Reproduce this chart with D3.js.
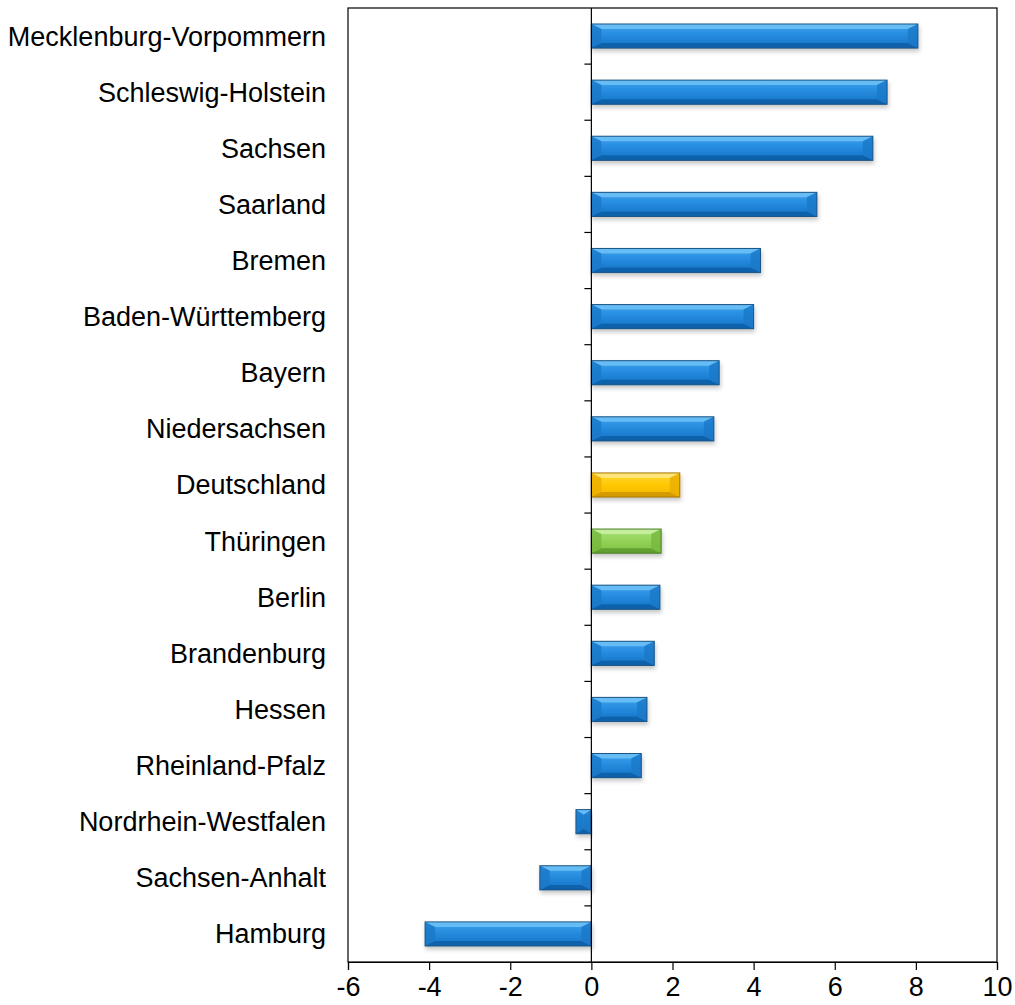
<!DOCTYPE html>
<html lang="en">
<head>
    <meta charset="utf-8">
    <script src="https://d3js.org/d3.v7.min.js"></script>
    <style>
        body { margin: 0; background: #fff; }
        text { font-family: "Liberation Sans", Arial, sans-serif; }
    </style>
</head>
<body>
    <div id="chart"></div>
    <script>
        // data
        const states = ["Mecklenburg-Vorpommern", "Schleswig-Holstein", "Sachsen", "Saarland",
            "Bremen", "Baden-Württemberg", "Bayern", "Niedersachsen", "Deutschland", "Thüringen",
            "Berlin", "Brandenburg", "Hessen", "Rheinland-Pfalz", "Nordrhein-Westfalen",
            "Sachsen-Anhalt", "Hamburg"];
        const values = [8.05, 7.29, 6.94, 5.56, 4.17, 4.0, 3.15, 3.02, 2.18, 1.72,
            1.69, 1.55, 1.37, 1.23, -0.38, -1.27, -4.1];
        const xTicks = [-6, -4, -2, 0, 2, 4, 6, 8, 10];

        // colour scheme per bar kind
        const palettes = {
            blue:   { top: "#6cc0f6", c0: "#3ea3ee", c1: "#2489dc", c2: "#1673c4", bottom: "#0d5ea6", side: "#1b78c8", border: "#1d5584" },
            yellow: { top: "#ffe680", c0: "#ffd83a", c1: "#ffc800", c2: "#f2b600", bottom: "#cf9500", side: "#eaae00", border: "#a67800" },
            green:  { top: "#c8f0a0", c0: "#ace47a", c1: "#92d257", c2: "#7dc244", bottom: "#5c9a2e", side: "#76b83e", border: "#4b7e27" }
        };
        function kind(name) {
            if (name === "Deutschland") return "yellow";
            if (name === "Thüringen") return "green";
            return "blue";
        }

        const W = 1015, H = 1005;
        const margin = { top: 8, right: 18, bottom: 43, left: 348 };
        const width = W - margin.left - margin.right,
            height = H - margin.top - margin.bottom;

        const svg = d3.select("#chart").append("svg")
            .attr("width", W).attr("height", H);

        const defs = svg.append("defs");
        const f = defs.append("filter").attr("id", "shadow")
            .attr("x", "-10%").attr("y", "-30%").attr("width", "120%").attr("height", "180%");
        f.append("feDropShadow").attr("dx", 1).attr("dy", 3).attr("stdDeviation", 2)
            .attr("flood-color", "#000").attr("flood-opacity", 0.22);

        Object.entries(palettes).forEach(([k, p]) => {
            const lg = defs.append("linearGradient").attr("id", "grad-" + k)
                .attr("x1", 0).attr("y1", 0).attr("x2", 0).attr("y2", 1);
            lg.append("stop").attr("offset", "0%").attr("stop-color", p.c0);
            lg.append("stop").attr("offset", "50%").attr("stop-color", p.c1);
            lg.append("stop").attr("offset", "100%").attr("stop-color", p.c2);
        });

        const g = svg.append("g").attr("transform", `translate(${margin.left},${margin.top})`);

        const x = d3.scaleLinear().domain([-6, 10]).range([0, width]);
        const y = d3.scaleBand().domain(states).range([0, height]).paddingInner(0.57).paddingOuter(0.285);

        // frame
        g.append("rect").attr("x", 0).attr("y", 0).attr("width", width).attr("height", height)
            .attr("fill", "none").attr("stroke", "#000").attr("stroke-width", 1.2);

        // x axis
        const xAxis = g.append("g").attr("transform", `translate(0,${height})`)
            .call(d3.axisBottom(x).tickValues(xTicks).tickSize(8).tickPadding(7).tickFormat(d => String(d)));
        xAxis.select(".domain").attr("stroke-width", 1.2);
        xAxis.selectAll("line").attr("stroke-width", 1.2);
        xAxis.selectAll("text").attr("font-size", 27).attr("fill", "#000")
            .style("font-family", "'Liberation Sans', Arial, sans-serif");

        // bars
        const bars = g.selectAll(".bar").data(states.map((s, i) => ({ name: s, v: values[i] })))
            .join("g").attr("class", "bar").attr("filter", "url(#shadow)");

        bars.each(function (d) {
            const k = kind(d.name), p = palettes[k];
            const x0 = Math.min(x(0), x(d.v)), x1 = Math.max(x(0), x(d.v));
            const y0 = y(d.name), y1 = y0 + y.bandwidth();
            const dy = 5, dx = Math.min(10, (x1 - x0) / 2);
            const sel = d3.select(this);
            const poly = (pts, fill, op) => sel.append("polygon")
                .attr("points", pts.map(q => q.join(",")).join(" ")).attr("fill", fill)
                .attr("opacity", op == null ? 1 : op);
            // body
            poly([[x0, y0], [x1, y0], [x1, y1], [x0, y1]], `url(#grad-${k})`);
            // top bevel
            poly([[x0, y0], [x1, y0], [x1 - dx, y0 + dy], [x0 + dx, y0 + dy]], p.top, 0.9);
            // bottom bevel
            poly([[x0, y1], [x1, y1], [x1 - dx, y1 - dy], [x0 + dx, y1 - dy]], p.bottom, 0.85);
            // side bevels
            poly([[x0, y0], [x0 + dx, y0 + dy], [x0 + dx, y1 - dy], [x0, y1]], p.side, 0.8);
            poly([[x1, y0], [x1 - dx, y0 + dy], [x1 - dx, y1 - dy], [x1, y1]], p.side, 0.8);
            // border
            sel.append("rect").attr("x", x0).attr("y", y0).attr("width", x1 - x0).attr("height", y1 - y0)
                .attr("fill", "none").attr("stroke", p.border).attr("stroke-width", 1);
        });

        // zero line with category ticks
        const step = y.step();
        g.append("line").attr("x1", x(0)).attr("x2", x(0)).attr("y1", 0).attr("y2", height)
            .attr("stroke", "#000").attr("stroke-width", 1.2);
        g.selectAll(".cat-tick").data(states.slice(1))
            .join("line").attr("class", "cat-tick")
            .attr("x1", x(0) - 7).attr("x2", x(0))
            .attr("y1", d => y(d) - step * y.paddingInner() / 2)
            .attr("y2", d => y(d) - step * y.paddingInner() / 2)
            .attr("stroke", "#000").attr("stroke-width", 1.2);

        // category labels
        g.selectAll(".label").data(states)
            .join("text").attr("class", "label")
            .attr("x", -22).attr("y", d => y(d) + y.bandwidth() / 2)
            .attr("dy", "0.35em").attr("text-anchor", "end")
            .attr("font-size", 27).attr("fill", "#000")
            .text(d => d);
    </script>
</body>
</html>
